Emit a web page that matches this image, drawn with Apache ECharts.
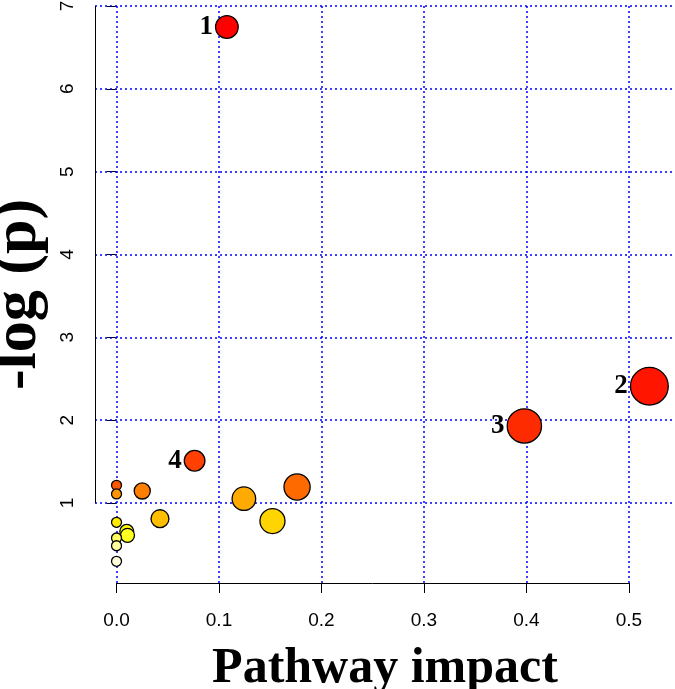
<!DOCTYPE html>
<html><head><meta charset="utf-8">
<script src="https://cdn.jsdelivr.net/npm/echarts@6/dist/echarts.min.js"></script>
<style>html,body{margin:0;padding:0;background:#fff}#c{width:675px;height:689px}</style>
</head><body><div id="c"></div><script>
// Pathway impact (x) and -log(p) (y) for each pathway
const impact  = [0.1077, 0.520, 0.398, 0.0762, 0.000, 0.1762, 0.0251, 0.000, 0.1243, 0.0424, 0.1522, 0.000, 0.0100, 0.0107, 0.000, 0.000, 0.000];
const negLogP = [6.746, 2.41, 1.93, 1.51, 1.213, 1.193, 1.145, 1.109, 1.052, 0.81, 0.782, 0.767, 0.658, 0.610, 0.577, 0.484, 0.296];
const pointLabels = ["1", "2", "3", "4", "", "", "", "", "", "", "", "", "", "", "", "", ""];
const xTicks = [0, 0.1, 0.2, 0.3, 0.4, 0.5];
const yTicks = [1, 2, 3, 4, 5, 6, 7];

const xMin = -0.021, xMax = 0.545, yMin = 0.034, yMax = 7;

// R heat.colors(n)
function heatColors(n) {
  const j = Math.floor(n / 4), i = n - j, out = [];
  const hex = v => Math.round(v * 255).toString(16).padStart(2, '0');
  for (let k = 0; k < i; k++) {
    const h = i > 1 ? k * (1 / 6) / (i - 1) : 0;
    out.push('#' + hex(1) + hex(h * 6) + hex(0));
  }
  for (let k = 0; k < j; k++) {
    const s0 = 1 - 1 / (2 * j), s1 = 1 / (2 * j);
    const s = j > 1 ? s0 + k * (s1 - s0) / (j - 1) : s0;
    out.push('#' + hex(1) + hex(1) + hex(1 - s));
  }
  return out;
}
const pal = heatColors(negLogP.length);
const order = negLogP.map((v, i) => i).sort((a, b) => negLogP[b] - negLogP[a]);
const pointColors = new Array(negLogP.length);
order.forEach((idx, rank) => { pointColors[idx] = pal[rank]; });

const bubbleData = impact.map((x, i) => ({
  value: [x, negLogP[i]],
  name: pointLabels[i],
  symbolSize: 10 + 38.5 * Math.sqrt(x),
  itemStyle: { color: pointColors[i] }
}));

const gridLineStyle = { color: '#0000ff', type: [2, 3], width: 1.5 };
const gridLines = xTicks.map(v => ({ xAxis: v })).concat(yTicks.map(v => ({ yAxis: v })));
const axisLines = [
  [{ coord: [xTicks[0], yMin] }, { coord: [xTicks[xTicks.length - 1], yMin] }],
  [{ coord: [xMin, yTicks[0]] }, { coord: [xMin, yTicks[yTicks.length - 1]] }]
];

const chart = echarts.init(document.getElementById('c'), null, { renderer: 'canvas' });
chart.setOption({
  animation: false,
  backgroundColor: '#ffffff',
  grid: { left: 95, right: 0, top: 6, bottom: 106, containLabel: false, outerBoundsMode: 'none' },
  xAxis: {
    type: 'value', min: xMin, max: xMax,
    axisLine: { show: false },
    axisTick: { show: true, customValues: xTicks, length: 10, lineStyle: { color: '#000', width: 1 } },
    axisLabel: { customValues: xTicks, formatter: v => v.toFixed(1), fontFamily: 'Liberation Sans', fontSize: 19, color: '#000', margin: 28 },
    splitLine: { show: false },
    name: 'Pathway impact', nameLocation: 'middle', nameGap: 61,
    nameTextStyle: { fontFamily: 'Liberation Serif', fontWeight: 'bold', fontSize: 50, color: '#000' }
  },
  yAxis: {
    type: 'value', min: yMin, max: yMax,
    axisLine: { show: false },
    axisTick: { show: true, customValues: yTicks, length: 10, lineStyle: { color: '#000', width: 1 } },
    axisLabel: { customValues: yTicks, rotate: 90, fontFamily: 'Liberation Sans', fontSize: 19, color: '#000', margin: 18 },
    splitLine: { show: false },
    name: '-log (p)', nameLocation: 'middle', nameGap: 37,
    nameTextStyle: { fontFamily: 'Liberation Serif', fontWeight: 'bold', fontSize: 62, color: '#000' }
  },
  series: [
    {
      type: 'scatter', data: [], z: 1,
      markLine: { silent: true, symbol: ['none', 'none'], label: { show: false }, lineStyle: gridLineStyle, data: gridLines, animation: false }
    },
    {
      type: 'scatter', data: [], z: 2,
      markLine: { silent: true, symbol: ['none', 'none'], label: { show: false }, lineStyle: { color: '#000', width: 1, type: 'solid' }, data: axisLines, animation: false }
    },
    {
      type: 'scatter', z: 5, data: bubbleData,
      itemStyle: { borderColor: '#000', borderWidth: 1.3, opacity: 1 },
      label: { show: true, position: 'left', distance: 2, formatter: p => p.name, fontFamily: 'Liberation Serif', fontWeight: 'bold', fontSize: 27, color: '#000' },
      emphasis: { disabled: true }
    }
  ]
});
</script></body></html>
